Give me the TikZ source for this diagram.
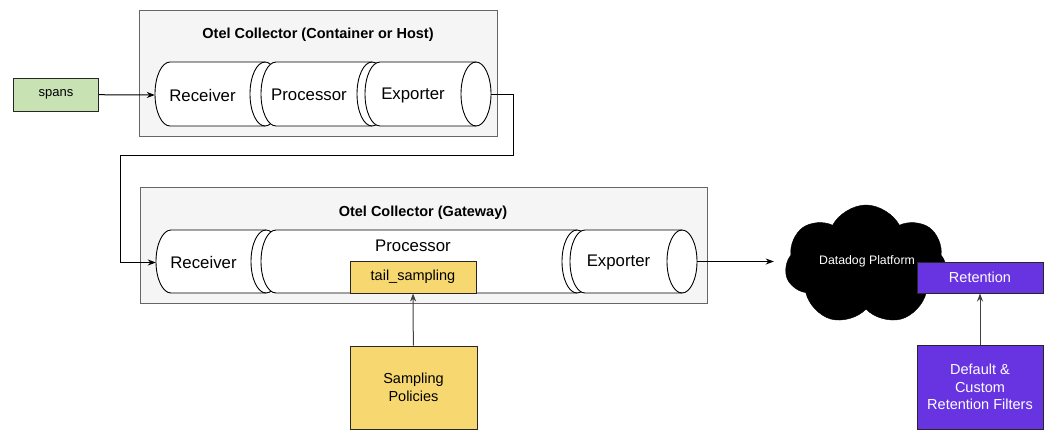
\documentclass[tikz,border=0pt]{standalone}
\usepackage{fontspec}
\setmainfont{Liberation Sans}
\usepackage{xcolor}
\usepackage{tikz}
\usetikzlibrary{arrows.meta,shapes.symbols}

\definecolor{spansgreen}{RGB}{200,226,180}
\definecolor{sampyellow}{RGB}{247,216,112}
\definecolor{ddpurple}{RGB}{104,52,226}
\definecolor{hostfill}{RGB}{245,245,245}
\definecolor{hostline}{RGB}{102,102,102}

\tikzset{
  container/.style={draw=hostline, fill=hostfill, line width=1pt, inner sep=0pt, anchor=north west},
  ctitle/.style={font=\bfseries\fontsize{14.5}{17}\selectfont},
  cylline/.style={draw=black, fill=white, line width=0.9pt},
  cyltext/.style={inner sep=0pt, font=\fontsize{16.8}{20}\selectfont},
  smallbox/.style={draw=black!85, line width=1pt, inner sep=0pt, align=center},
  flow/.style={->, line width=1pt},
}

% horizontal cylinder: name, left, ellipse centre, top, bottom, text
\newcommand{\cyl}[6]{%
  \draw[cylline] ({#2+15},#4) -- (#3,#4)
    arc[start angle=90, end angle=-90, x radius=15pt, y radius={(#5-#4)*0.5pt}]
    -- ({#2+15},#5)
    arc[start angle=270, end angle=90, x radius=15pt, y radius={(#5-#4)*0.5pt}] -- cycle;
  \draw[cylline, fill=none] (#3,#4)
    arc[start angle=90, end angle=270, x radius=15pt, y radius={(#5-#4)*0.5pt}];
  \node[cyltext, minimum width={(#3-15-#2)*1pt}] (#1) at ({(#2+#3-15)/2},{(#4+#5)/2+1}) {#6};
  \coordinate (#1-end) at ({#3+15},{(#4+#5)/2});
}

\begin{document}
\begin{tikzpicture}[x=1pt, y=-1pt, >={Stealth[length=8pt,width=6pt]}]
    \path[use as bounding box, fill=white] (0,0) rectangle (1061,445);

    % Collector on the host
    \node[container, minimum width=358, minimum height=126] (host) at (139,10) {};
    \node[ctitle] (hosttitle) at (318,35) {Otel Collector (Container or Host)};
    \cyl{rcv1}{155}{265}{62}{126}{Receiver}
    \cyl{proc1}{261}{372}{62}{126}{Processor}
    \cyl{exp1}{365}{476}{62}{126}{Exporter}

    % Input
    \node[smallbox, fill=spansgreen, minimum width=85, minimum height=33,
          font=\fontsize{13}{16}\selectfont] (spans) at (56,94.5) {spans};

    % Gateway collector
    \node[container, minimum width=567, minimum height=116] (gw) at (140,187) {};
    \node[ctitle] (gwtitle) at (423,213) {Otel Collector (Gateway)};
    \cyl{rcv2}{156}{266}{230}{293}{Receiver}
    \cyl{proc2}{261}{577}{230}{293}{}
    \cyl{exp2}{570}{682}{230}{293}{Exporter}
    \node[cyltext] (proclabel) at (413,246) {Processor};
    \node[smallbox, fill=sampyellow, minimum width=126, minimum height=32,
          font=\fontsize{14.5}{17}\selectfont] (tail) at (413,277) {tail\_sampling};

    % Policies
    \node[smallbox, fill=sampyellow, minimum width=127, minimum height=83,
          font=\fontsize{14.5}{17.5}\selectfont] (policies) at (413.5,387.5) {Sampling\\Policies};

    % Datadog side
    \node[cloud, cloud puffs=7, cloud puff arc=125, aspect=1.35, fill=black, draw=black,
          minimum width=162, minimum height=120, inner sep=0pt, text=white,
          font=\fontsize{12.3}{14}\selectfont] (dd) at (866,265) {};
    \node[text=white, font=\fontsize{12.3}{14}\selectfont] (ddlabel) at (867,261) {Datadog Platform};
    \node[smallbox, fill=ddpurple, text=white, minimum width=126, minimum height=31,
          font=\fontsize{14.5}{17}\selectfont] (ret) at (980,277.5) {Retention};
    \node[smallbox, fill=ddpurple, text=white, minimum width=126, minimum height=84,
          font=\fontsize{14.5}{17.5}\selectfont] (filters) at (980,387) {Default \&\\Custom\\Retention Filters};

    % Arrows
    \draw[flow] (spans) -- (rcv1.west);
    \draw[flow] (exp1-end) -- ++(22,0) |- (120,155) |- (rcv2.west);
    \draw[flow, shorten >=12pt] (exp2-end) -- (exp2-end -| dd.west);
    \draw[flow, black!75] (policies) -- (tail);
    \draw[flow, black!75] (filters) -- (ret);
\end{tikzpicture}
\end{document}
